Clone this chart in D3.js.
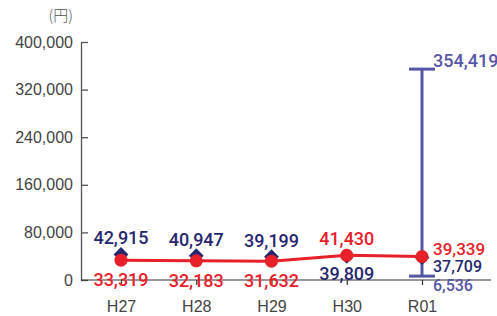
<!DOCTYPE html>
<html>
<head>
<meta charset="utf-8">
<script src="https://cdn.jsdelivr.net/npm/d3@7"></script>
<style>
  body { margin: 0; background: #fff; }
  svg { display: block; font-family: "Liberation Sans", Arial, sans-serif; }
</style>
</head>
<body>
<svg id="chart" width="497" height="316"></svg>
<script>
// data
let years = ['H27', 'H28', 'H29', 'H30', 'R01'];
let navyValues = [42915, 40947, 39199, 39809, 37709];
let redValues = [33319, 32183, 31632, 41430, 39339];
let rangeMin = 6536;
let rangeMax = 354419;
let yTicks = [0, 80000, 160000, 240000, 320000, 400000];

let navy = '#27276f';
let red = '#e8202a';
let purple = '#5656a6';
let grey = '#444';

let svg = d3.select('#chart');

let x = d3.scalePoint()
    .domain(years)
    .range([121, 422]);

let y = d3.scaleLinear()
    .domain([0, 400000])
    .range([280, 42]);

let fmt = d3.format(',');

// unit
svg.append('text')
    .attr('x', 73)
    .attr('y', 21)
    .attr('text-anchor', 'end')
    .attr('fill', '#555')
    .attr('font-size', 15)
    .attr('font-family', '"Noto Sans CJK JP", sans-serif')
    .attr('font-weight', 300)
    .text('(円)');

// y axis
let yAxis = svg.append('g')
    .attr('transform', 'translate(81,0)')
    .call(d3.axisLeft(y)
        .tickValues(yTicks)
        .tickFormat(fmt)
        .tickSize(-7)
        .tickSizeOuter(0)
        .tickPadding(8));
yAxis.selectAll('text').attr('font-size', 16).attr('fill', grey).attr('font-family', '"Liberation Sans", Arial, sans-serif');
yAxis.selectAll('line, path').attr('stroke', '#555').attr('stroke-width', 1.3);

// x axis
let xAxis = svg.append('g')
    .attr('transform', 'translate(0,280)')
    .call(d3.axisBottom(x)
        .tickSize(5)
        .tickSizeOuter(0)
        .tickPadding(16));
xAxis.select('.domain').attr('d', 'M81,0H491');
xAxis.selectAll('line, path').attr('stroke', '#333').attr('stroke-width', 1.2);
xAxis.selectAll('text').attr('font-size', 16).attr('fill', grey).attr('font-family', '"Liberation Sans", Arial, sans-serif');

// range bar at R01
let rx = x('R01');
let cap = 13;
svg.append('line')
    .attr('x1', rx).attr('x2', rx)
    .attr('y1', y(rangeMax)).attr('y2', y(rangeMin))
    .attr('stroke', purple).attr('stroke-width', 3);
[rangeMax, rangeMin].forEach(function (v) {
    svg.append('line')
        .attr('x1', rx - cap).attr('x2', rx + cap)
        .attr('y1', y(v)).attr('y2', y(v))
        .attr('stroke', purple).attr('stroke-width', 3);
});

// navy diamonds
svg.selectAll('.diamond')
    .data(navyValues)
    .join('path')
    .attr('class', 'diamond')
    .attr('d', d3.symbol(d3.symbolDiamond2, 140))
    .attr('transform', function (d, i) { return 'translate(' + x(years[i]) + ',' + y(d) + ')'; })
    .attr('fill', navy);

// red line
svg.append('path')
    .datum(redValues)
    .attr('fill', 'none')
    .attr('stroke', red)
    .attr('stroke-width', 3)
    .attr('d', d3.line()
        .x(function (d, i) { return x(years[i]); })
        .y(function (d) { return y(d); }));

svg.selectAll('.dot')
    .data(redValues)
    .join('circle')
    .attr('class', 'dot')
    .attr('cx', function (d, i) { return x(years[i]); })
    .attr('cy', function (d) { return y(d); })
    .attr('r', 6.5)
    .attr('fill', red);

// labels
function label(tx, ty, txt, color, anchor, size) {
    svg.append('text')
        .attr('x', tx)
        .attr('y', ty)
        .attr('text-anchor', anchor)
        .attr('fill', color)
        .attr('font-family', 'Roboto, "Liberation Sans", sans-serif')
        .attr('font-size', size || 18)
        .attr('font-weight', 500)
        .text(txt);
}

years.forEach(function (yr, i) {
    let cx = x(yr);
    if (i < 3) {
        label(cx, y(navyValues[i]) - 10, fmt(navyValues[i]), navy, 'middle');
        label(cx, y(redValues[i]) + 26, fmt(redValues[i]), red, 'middle');
    } else if (i === 3) {
        label(cx, y(redValues[i]) - 10, fmt(redValues[i]), red, 'middle');
        label(cx, y(navyValues[i]) + 24, fmt(navyValues[i]), navy, 'middle');
    } else {
        label(cx + 11, y(redValues[i]) - 2, fmt(redValues[i]), red, 'start', 17);
        label(cx + 11, y(navyValues[i]) + 14.5, fmt(navyValues[i]), navy, 'start', 16);
        label(cx + 11, y(rangeMin) + 14.5, fmt(rangeMin), purple, 'start', 16);
        label(cx + 11, y(rangeMax) - 2, fmt(rangeMax), purple, 'start');
    }
});
</script>
</body>
</html>
